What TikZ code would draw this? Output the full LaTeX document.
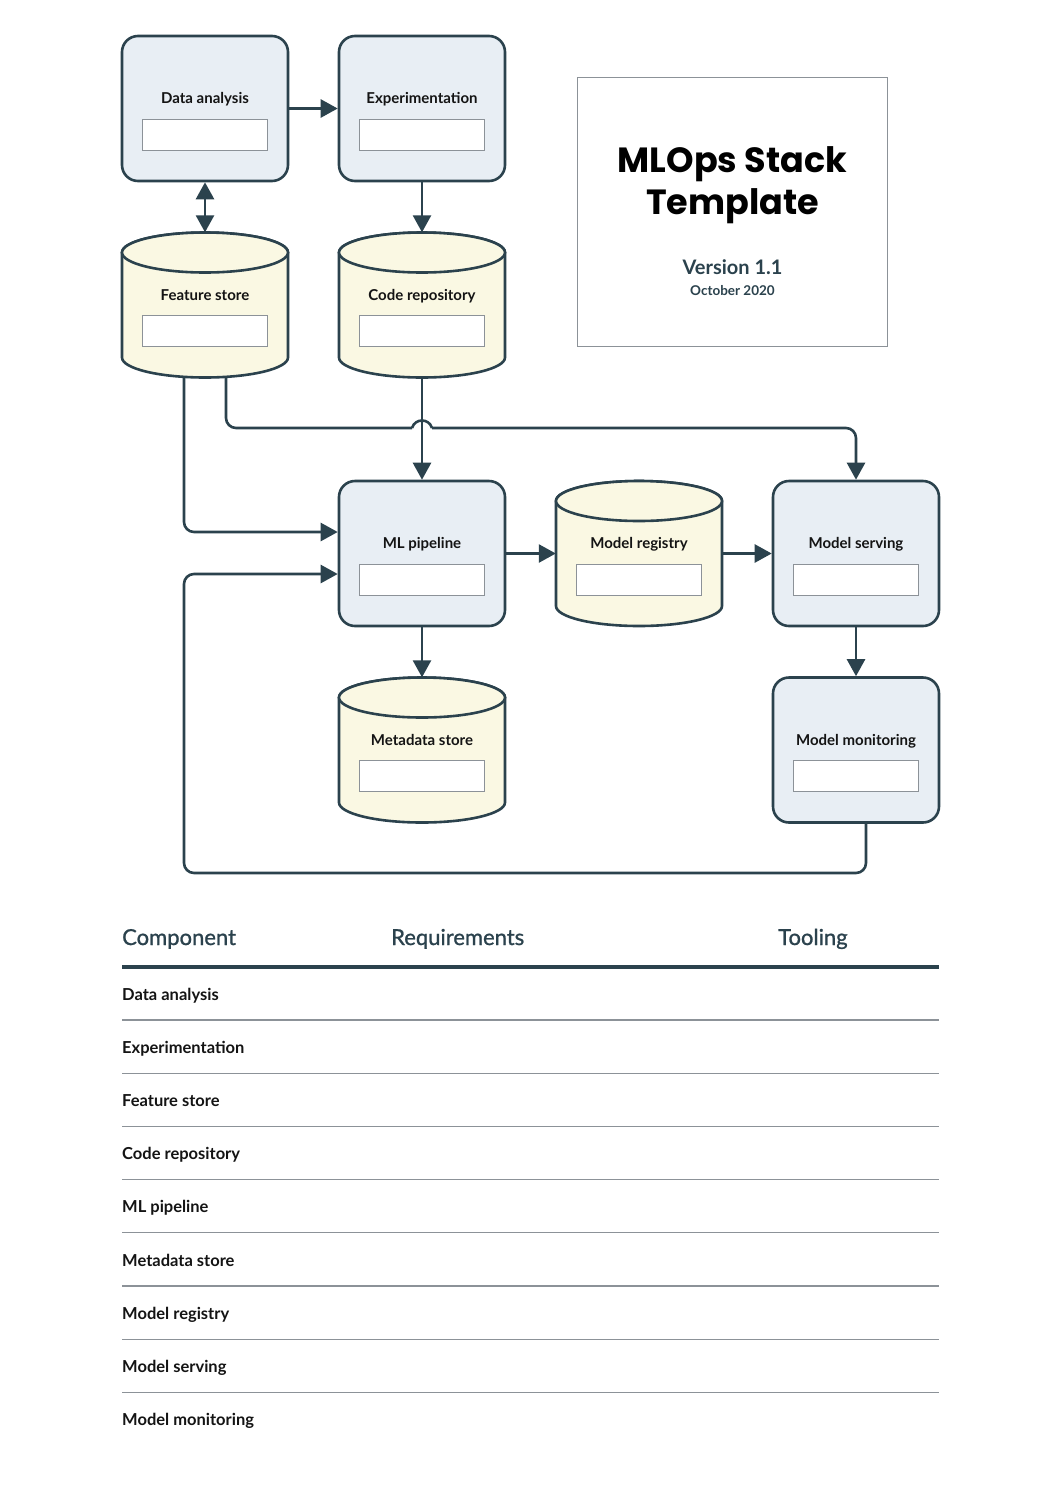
\documentclass[tikz,border=0pt]{standalone}
\usepackage{fontspec}
\setmainfont{Lato}
\newfontfamily\titlefont{Poppins}
\newfontfamily\hdrfont{Lato}[FakeBold=1]
\usetikzlibrary{arrows.meta}
\definecolor{ink}{HTML}{2B424D}
\definecolor{boxfill}{HTML}{E8EEF4}
\definecolor{cylfillc}{HTML}{FAF8E3}
\definecolor{fieldline}{HTML}{8C9298}
\definecolor{rulec}{HTML}{8C9298}
\tikzset{
  pbox/.style={draw=ink, fill=boxfill, line width=2.6pt, rounded corners=16pt, minimum width=166pt, minimum height=145pt, inner sep=0pt},
  cylnode/.style={minimum width=166pt, minimum height=145pt, inner sep=0pt},
  cylshape/.style={draw=ink, fill=cylfillc, line width=2.6pt},
  field/.style={draw=fieldline, fill=white, line width=1pt, minimum width=125pt, minimum height=31pt, inner sep=0pt},
  lbl/.style={font=\bfseries\fontsize{15}{18}\selectfont, text=black!92, anchor=base, inner sep=0pt},
  conn/.style={draw=ink, line width=2.6pt},
  arr/.style={conn, -{Triangle[length=17pt,width=18pt]}},
  darr/.style={conn, {Triangle[length=17pt,width=18pt]}-{Triangle[length=17pt,width=18pt]}},
  hdr/.style={font=\hdrfont\fontsize{22}{26}\selectfont, text=ink, anchor=base west, inner sep=0pt},
  rowlbl/.style={font=\bfseries\fontsize{16.5}{20}\selectfont, text=black!92, anchor=base west, inner sep=0pt},
  seprule/.style={draw=rulec, line width=1.2pt},
  headrule/.style={draw=ink, line width=4pt},
  titlebox/.style={draw=rulec, line width=1pt, minimum width=310pt, minimum height=269pt, inner sep=0pt},
}
\newcommand\procbox[4]{%
  \node[pbox] (#1) at (#2,#3) {};
  \node[lbl] (#1-t) at (#2,#3-5) {#4};
  \node[field] (#1-f) at (#2,#3+26) {};
}
\newcommand\cylbox[4]{%
  \pgfmathsetmacro\cxa{#2-83}\pgfmathsetmacro\cxb{#2+83}%
  \pgfmathsetmacro\cyt{#3-52.5}\pgfmathsetmacro\cyb{#3+52.5}%
  \path[cylshape] (\cxa,\cyt) -- (\cxa,\cyb) arc[start angle=180,end angle=0,x radius=83,y radius=20] -- (\cxb,\cyt) arc[start angle=0,end angle=-180,x radius=83,y radius=20] -- cycle;
  \path[cylshape] (#2,\cyt) ellipse[x radius=83,y radius=20];
  \node[cylnode] (#1) at (#2,#3) {};
  \node[lbl] (#1-t) at (#2,#3-5) {#4};
  \node[field] (#1-f) at (#2,#3+26) {};
}
\begin{document}
\begin{tikzpicture}[x=1pt,y=-1pt]
\useasboundingbox (0,0) rectangle (1061,1500);
\fill[white] (0,0) rectangle (1061,1500);
% diagram nodes
\procbox{da}{205}{108.5}{Data analysis}
\procbox{ex}{422}{108.5}{Experimentation}
\cylbox{fs}{205}{305}{Feature store}
\cylbox{cr}{422}{305}{Code repository}
\procbox{ml}{422}{553.5}{ML pipeline}
\cylbox{mr}{639}{553.5}{Model registry}
\procbox{ms}{856}{553.5}{Model serving}
\cylbox{md}{422}{750}{Metadata store}
\procbox{mm}{856}{750}{Model monitoring}
% title
\node[titlebox] (tb) at (732.5,211.5) {};
\node[font=\titlefont\bfseries\fontsize{35}{42}\selectfont, anchor=base, inner sep=0pt] (t1) at (732.5,172) {MLOps Stack};
\node[font=\titlefont\bfseries\fontsize{35}{42}\selectfont, anchor=base, inner sep=0pt] (t2) at (732.5,214) {Template};
\node[font=\bfseries\fontsize{20}{24}\selectfont, text=ink, anchor=base, inner sep=0pt] (t3) at (732.5,274) {Version 1.1};
\node[font=\bfseries\fontsize{13.5}{16}\selectfont, text=ink, anchor=base, inner sep=0pt] (t4) at (732.5,295) {October 2020};
% connectors
\draw[arr] (da.east) -- (ex.west);
\draw[darr] (da.south) -- (fs.north);
\draw[arr] (ex.south) -- (cr.north);
\draw[arr] (cr.south) -- (ml.north);
\draw[arr, rounded corners=10pt] ([xshift=-21pt]fs.south) |- ([yshift=21.5pt]ml.west);
\coordinate (hopL) at (412,428);
\coordinate (hopR) at (432,428);
\draw[conn, rounded corners=10pt] ([xshift=21pt]fs.south) |- (hopL);
\draw[conn] (hopL) .. controls +(3,-10) and +(-3,-10) .. (hopR);
\draw[arr, rounded corners=10pt] (hopR) -| (ms.north);
\draw[arr] (ml.east) -- (mr.west);
\draw[arr] (mr.east) -- (ms.west);
\draw[arr] (ml.south) -- (md.north);
\draw[arr] (ms.south) -- (mm.north);
\coordinate (fb) at (184,873);
\draw[arr, rounded corners=10pt] ([xshift=10pt]mm.south) |- (fb) |- ([yshift=-20.5pt]ml.west);
% table
\node[hdr] (h1) at (122,945) {Component};
\node[hdr] (h2) at (391,945) {Requirements};
\node[hdr] (h3) at (778,945) {Tooling};
\draw[headrule] (122,967) -- (939,967);
\foreach \t [count=\i from 0] in {Data analysis, Experimentation, Feature store, Code repository, ML pipeline, Metadata store, Model registry, Model serving, Model monitoring} {
  \node[rowlbl] (row\i) at (122,1000+53.2*\i) {\t};
}
\foreach \k in {0,...,7} {
  \draw[seprule] (122,1020+53.2*\k) -- (939,1020+53.2*\k);
}
\end{tikzpicture}
\end{document}
